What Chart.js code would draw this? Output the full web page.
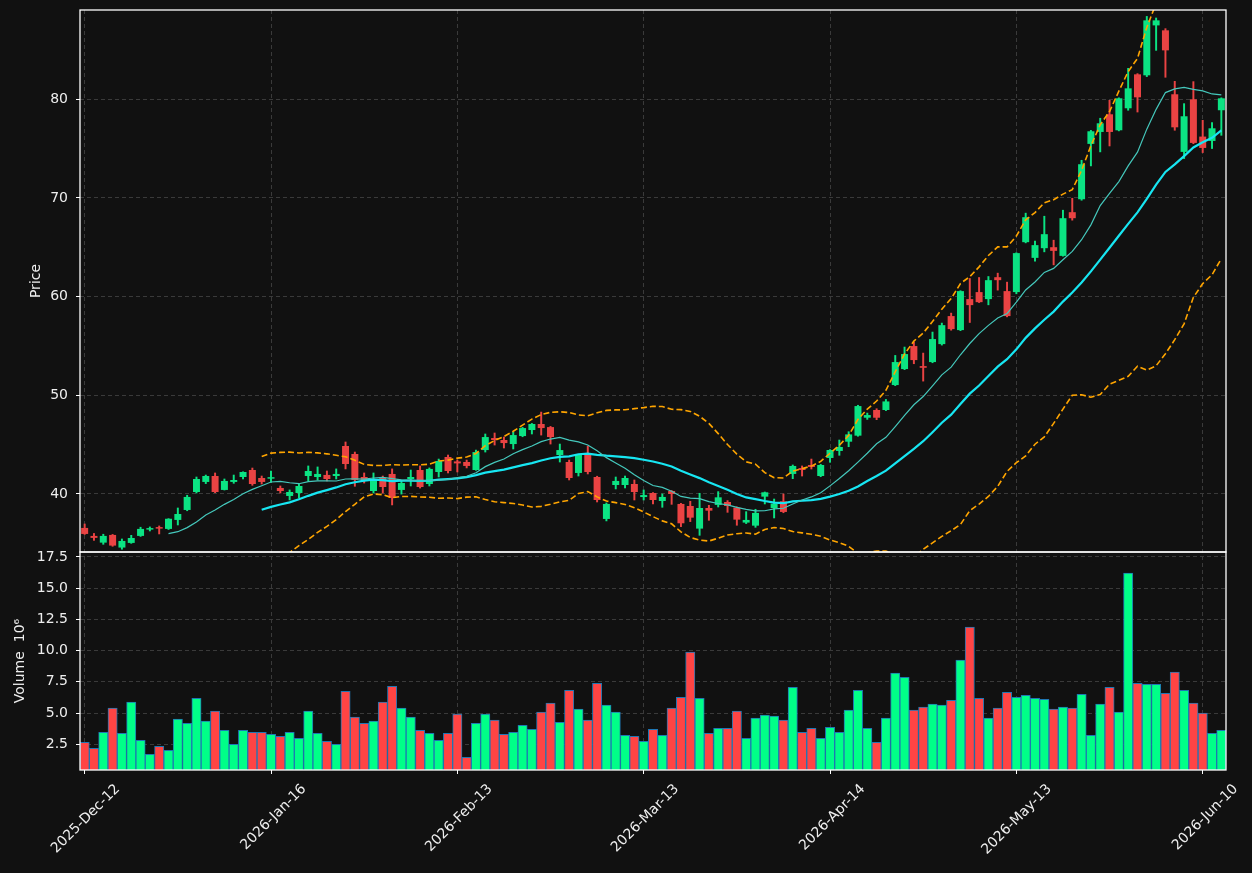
<!DOCTYPE html>
<html>
<head>
<meta charset="utf-8">
<script src="https://cdn.jsdelivr.net/npm/chart.js@4.4.1/dist/chart.umd.min.js"></script>
<style>
html,body{margin:0;padding:0;background:#111111;}
canvas{display:block;}
</style>
</head>
<body>
<canvas id="c" width="1252" height="873"></canvas>
<script>
// ---- data (one entry per trading day) ----
const opens = [36.56,35.75,35.07,35.85,34.57,35.04,35.75,36.39,36.62,36.46,
37.37,38.38,40.2,41.22,41.82,40.41,41.22,41.72,42.43,41.62,
41.55,40.61,39.80,40.10,41.82,41.72,41.93,41.82,44.86,44.05,
41.72,40.30,41.62,42.03,40.41,41.52,42.43,41.01,42.23,43.75,
43.3,43.24,42.43,44.45,45.67,45.47,45.06,45.87,46.48,47.09,
46.78,43.95,43.24,42.13,44.15,41.72,37.47,40.91,40.91,41.01,
39.69,40.10,39.29,40.30,38.99,38.78,36.49,38.58,38.89,39.19,
38.62,37.10,36.79,39.73,38.58,39.26,42.03,42.63,42.94,41.82,
43.65,44.36,45.30,45.91,47.73,48.51,48.51,51.04,52.66,54.99,
52.96,53.37,55.19,58.03,56.61,59.75,60.46,59.75,61.97,60.56,
60.46,65.52,63.93,64.91,65.01,64.13,68.56,69.87,75.48,76.69,
78.48,76.86,79.09,82.53,82.43,87.49,86.99,80.51,74.67,80.0,
76.22,75.78,78.89];
const highs = [36.96,36.0,35.92,35.9,35.44,35.81,36.63,36.66,36.76,37.5,
38.58,39.87,41.72,41.92,42.13,41.52,41.92,42.25,42.63,41.82,
42.33,40.81,40.41,41.01,42.84,42.74,42.33,42.54,45.27,44.25,
42.13,42.13,41.82,42.54,41.32,42.43,42.84,42.64,43.54,43.95,
43.44,43.44,44.45,46.08,46.18,45.77,46.28,46.75,47.15,48.30,
46.85,45.06,43.44,44.0,44.86,41.8,39.09,41.72,41.82,41.42,
40.41,40.15,40.0,40.35,39.05,39.26,40.07,38.85,40.24,39.33,
38.7,38.21,38.45,40.2,39.49,40.0,42.94,42.84,43.54,43.0,
44.5,45.47,46.31,48.99,48.20,48.64,49.58,54.04,54.89,55.39,
54.28,56.41,57.32,58.33,60.6,61.84,61.94,62.04,62.38,61.47,
64.45,68.46,65.62,68.15,65.72,68.76,69.97,73.82,76.85,78.08,
79.9,80.15,83.14,82.6,88.40,88.24,87.16,81.82,79.56,81.79,
77.87,77.64,80.15];
const lows = [35.9,35.3,34.9,34.7,34.4,35.0,35.7,36.25,35.95,36.4,
36.86,38.3,40.1,41.05,40.13,40.4,41.08,41.52,40.88,41.01,
41.18,40.1,39.39,39.59,41.32,41.42,41.32,41.52,42.54,40.78,
41.11,40.10,40.10,38.89,39.99,40.81,40.6,40.81,41.72,42.13,
42.23,42.64,42.4,44.25,44.96,44.66,44.56,45.8,46.08,45.97,
45.06,43.24,41.42,41.82,42.03,39.19,37.27,40.51,40.61,39.39,
39.39,38.99,38.65,38.95,36.69,37.20,35.81,37.33,38.68,38.14,
36.83,37.0,36.62,38.99,37.57,38.1,41.55,41.82,42.53,41.75,
43.21,43.92,44.79,45.85,47.56,47.53,48.45,50.98,52.6,53.20,
51.44,53.3,55.09,56.6,56.55,57.38,59.4,59.17,60.66,57.95,
60.29,65.45,63.59,64.54,63.22,64.1,67.75,69.77,73.25,74.67,
75.27,76.8,78.89,78.71,82.3,84.96,82.23,76.86,73.99,75.5,
74.6,75.01,76.35];
const closes = [35.95,35.55,35.75,34.77,35.24,35.54,36.46,36.52,36.49,37.49,
37.97,39.70,41.52,41.82,40.2,41.32,41.42,42.23,41.01,41.22,
41.69,40.30,40.20,40.81,42.33,42.03,41.52,42.03,43.04,41.42,
41.32,41.52,40.71,39.59,41.11,41.72,40.71,42.54,43.34,42.33,
43.1,42.84,44.25,45.77,45.47,45.16,45.97,46.68,47.09,46.68,
45.77,44.45,41.62,43.95,42.23,39.39,38.99,41.32,41.62,40.20,
39.89,39.39,39.70,40.0,37.03,37.60,38.58,38.31,39.66,38.78,
37.40,37.37,38.08,40.17,39.02,38.18,42.84,42.43,42.74,42.94,
44.46,44.76,46.04,48.91,48.0,47.73,49.38,53.37,54.18,53.57,
52.79,55.70,57.11,56.71,60.56,59.14,59.44,61.67,61.67,58.03,
64.41,68.05,65.22,66.33,64.64,67.95,67.95,73.42,76.76,77.57,
76.69,80.10,81.11,80.20,88.0,88.0,84.96,77.16,78.28,75.58,
75.07,77.06,80.10];
const volumes = [2.66,2.18,3.46,5.39,3.38,5.87,2.82,1.70,2.34,2.02,
4.51,4.18,6.19,4.35,5.15,3.62,2.5,3.62,3.46,3.46,
3.30,3.14,3.46,2.98,5.15,3.38,2.74,2.5,6.75,4.67,
4.18,4.35,5.87,7.15,5.39,4.67,3.62,3.38,2.82,3.38,
4.91,1.46,4.18,4.91,4.43,3.30,3.46,4.02,3.70,5.07,
5.79,4.26,6.83,5.31,4.43,7.39,5.63,5.07,3.22,3.14,
2.74,3.70,3.22,5.39,6.27,9.88,6.19,3.38,3.78,3.78,
5.15,2.98,4.59,4.83,4.75,4.43,7.07,3.46,3.78,2.98,
3.86,3.46,5.23,6.83,3.78,2.66,4.59,8.20,7.87,5.23,
5.47,5.71,5.63,6.03,9.24,11.89,6.19,4.59,5.39,6.67,
6.27,6.43,6.19,6.11,5.31,5.47,5.39,6.51,3.22,5.71,
7.07,5.07,16.22,7.39,7.31,7.31,6.59,8.28,6.83,5.79,
4.99,3.38,3.62];
const tickIndex = [0,20,40,60,80,100,120];
const tickLabels = ['2025-Dec-12','2026-Jan-16','2026-Feb-13','2026-Mar-13','2026-Apr-14','2026-May-13','2026-Jun-10'];
const priceTicks = [40,50,60,70,80];
const volumeTicks = [2.5,5.0,7.5,10.0,12.5,15.0,17.5];

// ---- derived indicators (moving averages & Bollinger bands of closes) ----
function rollingMean(arr, n){
  return arr.map((v,i)=> i < n-1 ? null : arr.slice(i-n+1,i+1).reduce((a,b)=>a+b,0)/n);
}
function rollingStd(arr, n){
  return arr.map((v,i)=>{
    if (i < n-1) return null;
    const w = arr.slice(i-n+1,i+1);
    const m = w.reduce((a,b)=>a+b,0)/n;
    return Math.sqrt(w.reduce((a,b)=>a+(b-m)*(b-m),0)/(n-1));
  });
}
const ma10 = rollingMean(closes,10);
const ma20 = rollingMean(closes,20);
const sd20 = rollingStd(closes,20);
const bbUpper = ma20.map((m,i)=> m===null ? null : m + 2*sd20[i]);
const bbLower = ma20.map((m,i)=> m===null ? null : m - 2*sd20[i]);

const idx = closes.map((_,i)=>i);
const UP_C = '#0be383', DOWN_C = '#ea4343';
const UP_V = '#00ff88', DOWN_V = '#ff4444';
const isUp = idx.map(i=> closes[i] >= opens[i]);
const candleColors = isUp.map(u=> u ? UP_C : DOWN_C);
const volColors = isUp.map(u=> u ? UP_V : DOWN_V);
const toPts = arr => idx.filter(i=>arr[i]!==null).map(i=>({x:i, y:arr[i]}));

const GRID = '#3a3a3a';
const TXT = '#eeeeee';
Chart.defaults.font.family = "'DejaVu Sans', sans-serif";
Chart.defaults.font.size = 14;
Chart.defaults.color = TXT;

const spines = {
  id:'spines',
  afterDatasetsDraw(chart){
    const {ctx} = chart;
    const x = chart.scales.x, yp = chart.scales.y, yv = chart.scales.yv;
    ctx.save();
    ctx.strokeStyle = '#ffffff';
    ctx.lineWidth = 1.3;
    ctx.strokeRect(x.left, yp.top, x.right - x.left, yp.bottom - yp.top);
    ctx.strokeRect(x.left, yv.top, x.right - x.left, yv.bottom - yv.top);
    ctx.restore();
  }
};

const fitY = s => { s.width = 80; s.paddingTop = 0; s.paddingBottom = 0; };

new Chart(document.getElementById('c'), {
  type: 'bar',
  data: {
    datasets: [
      {type:'line', label:'MA10', data: toPts(ma10), yAxisID:'y', borderColor:'#45c8bc', borderWidth:1.2, pointRadius:0, tension:0, order:0},
      {type:'line', label:'MA20', data: toPts(ma20), yAxisID:'y', borderColor:'#17e6f2', borderWidth:2.2, pointRadius:0, tension:0, order:0},
      {type:'line', label:'BB upper', data: toPts(bbUpper), yAxisID:'y', borderColor:'#ffa500', borderWidth:1.6, borderDash:[6,3], pointRadius:0, tension:0, order:0},
      {type:'line', label:'BB lower', data: toPts(bbLower), yAxisID:'y', borderColor:'#ffa500', borderWidth:1.6, borderDash:[6,3], pointRadius:0, tension:0, order:0},
      {type:'bar', label:'body', data: idx.map(i=>({x:i, y:[opens[i], closes[i]]})), yAxisID:'y',
        backgroundColor: candleColors, barPercentage:0.75, categoryPercentage:1, minBarLength:1.5, grouped:false, order:1},
      {type:'bar', label:'wick', data: idx.map(i=>({x:i, y:[lows[i], highs[i]]})), yAxisID:'y',
        backgroundColor: candleColors, barThickness:1.3, grouped:false, order:2},
      {type:'bar', label:'volume', data: idx.map(i=>({x:i, y:volumes[i]})), yAxisID:'yv',
        backgroundColor: volColors, borderColor:'#1f77b4', borderWidth:1, borderSkipped:false,
        barPercentage:1, categoryPercentage:1, grouped:false, order:3}
    ]
  },
  options: {
    responsive:false, animation:false, devicePixelRatio:1,
    layout:{padding:{left:0, right:26, top:10, bottom:0}},
    plugins:{legend:{display:false}, tooltip:{enabled:false}},
    scales:{
      x:{
        type:'linear', position:'bottom', min:-0.5, max:122.5, offset:false,
        afterBuildTicks: s => { s.ticks = tickIndex.map(v=>({value:v})); },
        afterFit: s => { s.height = 103; s.paddingLeft = 0; s.paddingRight = 0; },
        ticks:{color:TXT, autoSkip:false, minRotation:45, maxRotation:45, labelOffset:33, padding:7,
          callback:(v,i)=> tickLabels[i]},
        grid:{color:GRID, offset:false, lineWidth:1, tickColor:'#ffffff', tickLength:4, tickWidth:1, tickBorderDash:[]},
        border:{display:false, dash:[4,3]}
      },
      y:{
        type:'linear', position:'left', stack:'panels', stackWeight:542, weight:2,
        min:34.12, max:89.05,
        afterBuildTicks: s => { s.ticks = priceTicks.map(v=>({value:v})); },
        afterFit: fitY,
        ticks:{color:TXT, autoSkip:false, padding:8, callback:v=>String(v)},
        grid:{color:GRID, lineWidth:1, tickColor:'#ffffff', tickLength:4, tickWidth:1, tickBorderDash:[]},
        border:{display:false, dash:[4,3]},
        title:{display:true, text:'Price', color:TXT, font:{size:14}, padding:{top:28, bottom:0}}
      },
      yv:{
        type:'linear', position:'left', stack:'panels', stackWeight:218, weight:1,
        min:0.44, max:17.9,
        afterBuildTicks: s => { s.ticks = volumeTicks.map(v=>({value:v})); },
        afterFit: fitY,
        ticks:{color:TXT, autoSkip:false, padding:8, callback:v=>Number(v).toFixed(1)},
        grid:{color:GRID, lineWidth:1, tickColor:'#ffffff', tickLength:4, tickWidth:1, tickBorderDash:[]},
        border:{display:false, dash:[4,3]},
        title:{display:true, text:'Volume  10\u2076', color:TXT, font:{size:14}, padding:{top:12, bottom:0}}
      }
    }
  },
  plugins:[spines]
});
</script>
</body>
</html>
